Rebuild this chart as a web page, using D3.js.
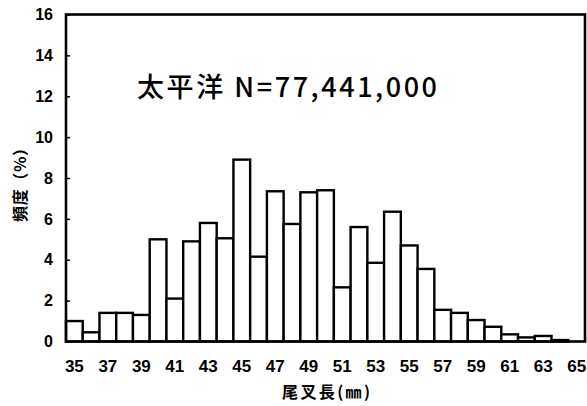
<!DOCTYPE html>
<html>
<head>
<meta charset="utf-8">
<script src="https://cdn.jsdelivr.net/npm/d3@7"></script>
<style>
  body { margin: 0; background: #fff; }
  svg { display: block; }
</style>
</head>
<body>
<svg id="chart" width="587" height="406"></svg>
<script>
// 尾叉長 (mm) classes and frequency (%)
var lengths = [35, 36, 37, 38, 39, 40, 41, 42, 43, 44, 45, 46, 47, 48, 49, 50,
               51, 52, 53, 54, 55, 56, 57, 58, 59, 60, 61, 62, 63, 64, 65];
var freq = [1.0, 0.45, 1.4, 1.4, 1.3, 5.0, 2.1, 4.9, 5.8, 5.05, 8.9, 4.15, 7.35, 5.75, 7.3, 7.4,
            2.65, 5.6, 3.85, 6.35, 4.7, 3.55, 1.55, 1.4, 1.05, 0.72, 0.35, 0.2, 0.27, 0.07, 0];
var xTicks = [35, 37, 39, 41, 43, 45, 47, 49, 51, 53, 55, 57, 59, 61, 63, 65];
var yTicks = [0, 2, 4, 6, 8, 10, 12, 14, 16];

var svg = d3.select('#chart'),
    plotL = 66, plotR = 585, plotT = 14.5, plotB = 341.5;

var x = d3.scaleBand().domain(lengths).range([plotL, plotR]).padding(0);
var y = d3.scaleLinear().domain([0, 16]).range([plotB, plotT]);

var data = lengths.map(function(d, i) { return { len: d, v: freq[i] }; });

// bars
svg.append('g').selectAll('rect')
  .data(data)
  .enter().append('rect')
  .attr('x', function(d) { return x(d.len); })
  .attr('y', function(d) { return y(d.v); })
  .attr('width', x.bandwidth())
  .attr('height', function(d) { return plotB - y(d.v); })
  .attr('fill', '#fff')
  .attr('stroke', '#000')
  .attr('stroke-width', 2.4);

// frame
svg.append('rect')
  .attr('x', plotL).attr('y', plotT)
  .attr('width', plotR - plotL).attr('height', plotB - plotT)
  .attr('fill', 'none')
  .attr('stroke', '#000')
  .attr('stroke-width', 2.6);

var font = '"Liberation Sans", Arial, sans-serif';

// y axis
var yAxis = svg.append('g')
  .attr('transform', 'translate(' + plotL + ',0)')
  .call(d3.axisLeft(y).tickValues(yTicks).tickSize(-4).tickPadding(13));
yAxis.select('.domain').remove();
yAxis.selectAll('line').attr('stroke', '#000').attr('stroke-width', 1.5);
yAxis.selectAll('text')
  .attr('font-family', font)
  .attr('font-weight', 'bold')
  .attr('font-size', '16px')
  .attr('fill', '#000');

// x axis
var xAxis = svg.append('g')
  .attr('transform', 'translate(0,' + plotB + ')')
  .call(d3.axisBottom(x).tickValues(xTicks).tickSize(0).tickPadding(18));
xAxis.select('.domain').remove();
xAxis.selectAll('text')
  .attr('font-family', font)
  .attr('font-weight', 'bold')
  .attr('font-size', '17px')
  .attr('fill', '#000');

var cjk = '"Noto Sans CJK JP", sans-serif';

// axis titles
svg.append('text')
  .attr('transform', 'translate(26,181) rotate(-90)')
  .attr('text-anchor', 'middle')
  .attr('font-family', cjk)
  .attr('font-weight', 'bold')
  .attr('font-size', '16px')
  .attr('textLength', 82)
  .attr('lengthAdjust', 'spacing')
  .text('頻度（%）');

svg.append('text')
  .attr('x', 282)
  .attr('y', 398)
  .attr('font-family', cjk)
  .attr('font-weight', 'bold')
  .attr('font-size', '16px')
  .attr('textLength', 88)
  .attr('lengthAdjust', 'spacing')
  .text('尾叉長(㎜)');

// title
svg.append('text')
  .attr('x', 137)
  .attr('y', 97)
  .attr('font-family', cjk)
  .attr('font-weight', 500)
  .attr('font-size', '27px')
  .attr('textLength', 300)
  .attr('lengthAdjust', 'spacing')
  .text('太平洋 N=77,441,000');
</script>
</body>
</html>
